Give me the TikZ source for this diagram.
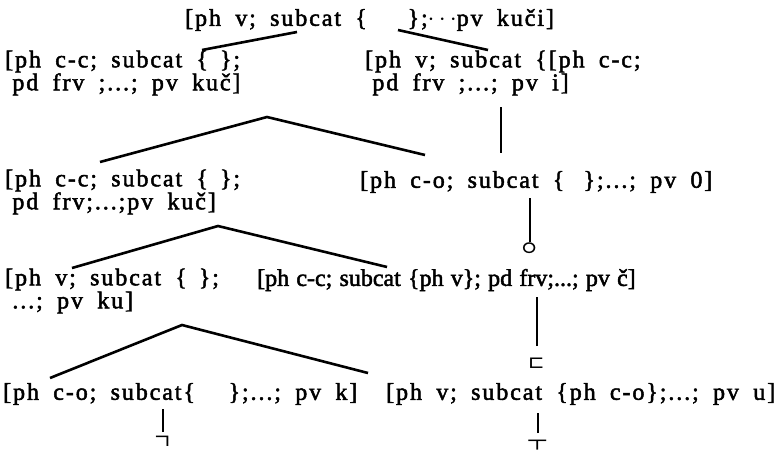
\documentclass[tikz,border=0pt]{standalone}
\usepackage{fontspec}
\setmainfont{Liberation Serif}[LetterSpace=8,WordSpace=1.8,FakeBold=2]
\newfontfamily\tightfont{Liberation Serif}[LetterSpace=0,WordSpace=1.2,FakeBold=2]
\newfontfamily\kofont{Noto Sans CJK KR}

\tikzset{
    feat/.style={inner sep=0pt, anchor=west, align=left, font=\fontsize{24}{23}\selectfont},
    tight/.style={font=\tightfont\fontsize{24}{23}\selectfont},
    jamo/.style={inner sep=0pt, font=\kofont\fontsize{22}{22}\selectfont},
    branch/.style={line width=2.6pt},
    stem/.style={line width=2pt}
}

\begin{document}
\begin{tikzpicture}[x=1pt, y=-1pt]
                            \useasboundingbox (0,0) rectangle (783,455);

                            \node[feat] (v0) at (185,20) {[ph v; subcat \{\hspace{1.7em}\};$\cdots$pv kuči]};
                            \node[feat] (c1) at (5,73) {[ph c-c; subcat \{\hspace{0.5em}\};\\\hspace{0.3em}pd frv ;...; pv kuč]};
                            \node[feat] (v1) at (365,73) {[ph v; subcat \{[ph c-c;\\\hspace{0.3em}pd frv ;...; pv i]};
                            \node[feat] (c2) at (5,192) {[ph c-c; subcat \{\hspace{0.5em}\};\\\hspace{0.3em}pd frv;...;pv kuč]};
                            \node[feat] (o1) at (360,182) {[ph c-o; subcat \{\hspace{0.8em}\};...; pv 0]};
                            \node[feat] (v2) at (5,291) {[ph v; subcat \{\hspace{0.5em}\};\\\hspace{0.3em}...; pv ku]};
                            \node[feat, tight] (c3) at (257,280) {[ph c-c; subcat \{ph v\}; pd frv;...; pv č]};
                            \node[feat] (o2) at (3,394) {[ph c-o; subcat\{\hspace{1.4em}\};...; pv k]};
                            \node[feat] (v3) at (386,394) {[ph v; subcat \{ph c-o\};...; pv u]};

                            \node[jamo] (ieung) at (530,250) {ㅇ};
                            \node[jamo] (digeut) at (537,365) {ㄷ};
                            \node[jamo] (giyeok) at (163,443) {ㄱ};
                            \node[jamo] (woo) at (538,446) {ㅜ};

                            \coordinate (v0-l) at (297,32);
                            \coordinate (v0-r) at (398,30);
                            \coordinate (c1-top) at (202,50);
                            \coordinate (v1-top) at (488,50);
                            \coordinate (c1-b) at (267,117);
                            \coordinate (c2-top) at (100,162);
                            \coordinate (o1-top) at (425,155);
                            \coordinate (v1-b) at (501,107);
                            \coordinate (o1-n) at (501,153);
                            \coordinate (c2-b) at (218,226);
                            \coordinate (v2-top) at (72,268);
                            \coordinate (c3-top) at (387,267);
                            \coordinate (v2-b) at (182,325);
                            \coordinate (o2-top) at (50,378);
                            \coordinate (v3-top) at (368,373);

                            \draw[branch] (v0-l) -- (c1-top);
                            \draw[branch] (v0-r) -- (v1-top);
                            \draw[branch] (c2-top) -- (c1-b) -- (o1-top);
                            \draw[stem] (v1-b) -- (o1-n);
                            \draw[stem] ([yshift=8pt]ieung.center) -- ([yshift=-5pt]ieung.center |- o1.south);
                            \draw[branch] (v2-top) -- (c2-b) -- (c3-top);
                            \draw[stem] ([yshift=19pt]digeut.center) -- ([yshift=-6pt]digeut.center |- c3.south);
                            \draw[branch] (o2-top) -- (v2-b) -- (v3-top);
                            \draw[stem] ([yshift=11pt]giyeok.center) -- ([yshift=-4pt]giyeok.center |- o2.south);
                            \draw[stem] ([yshift=13pt]woo.center) -- ([yshift=-8pt]woo.center |- v3.south);
                        \end{tikzpicture}
\end{document}
